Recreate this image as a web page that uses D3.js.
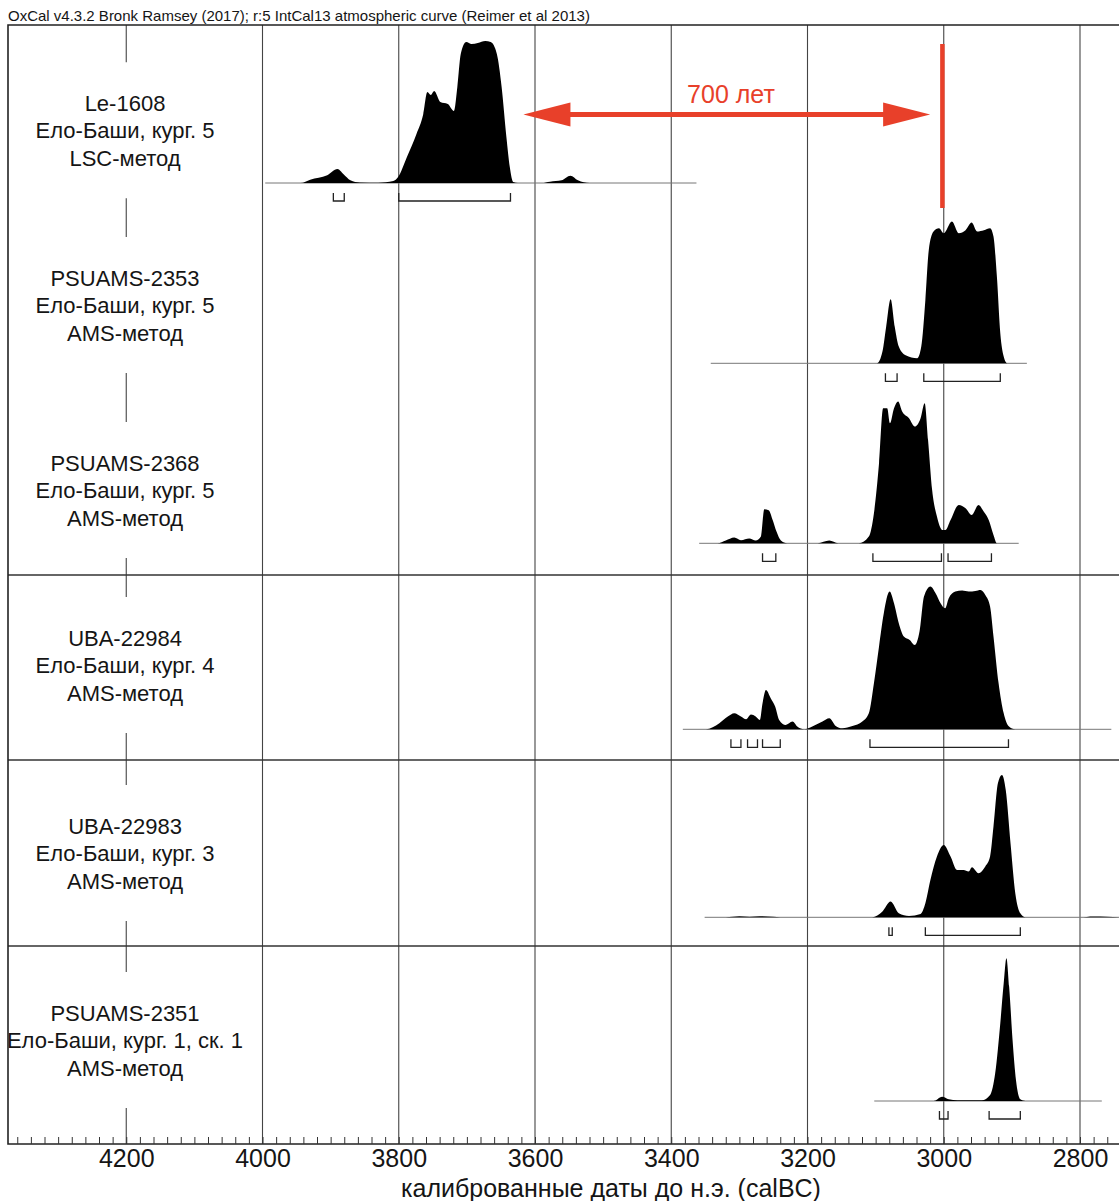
<!DOCTYPE html>
<html><head><meta charset="utf-8">
<script src="https://cdn.jsdelivr.net/npm/d3@7"></script>
<style>
body{margin:0;background:#fff}
svg{display:block}
text{font-family:"Liberation Sans",Arial,Helvetica,sans-serif;fill:#151515}
</style>
</head><body>
<svg id="c" width="1119" height="1201"></svg>
<script>
// ---------- DATA ----------
const chartTitle = "OxCal v4.3.2 Bronk Ramsey (2017); r:5 IntCal13 atmospheric curve (Reimer et al 2013)";
const axisTitle = "калиброванные даты до н.э. (calBC)";
const tickYears = [4200, 4000, 3800, 3600, 3400, 3200, 3000, 2800];
const minorTickYears = d3.range(4360, 2739, -20);

const sampleLabels = [
  ["Le-1608", "Ело-Баши, кург. 5", "LSC-метод"],
  ["PSUAMS-2353", "Ело-Баши, кург. 5", "AMS-метод"],
  ["PSUAMS-2368", "Ело-Баши, кург. 5", "AMS-метод"],
  ["UBA-22984", "Ело-Баши, кург. 4", "AMS-метод"],
  ["UBA-22983", "Ело-Баши, кург. 3", "AMS-метод"],
  ["PSUAMS-2351", "Ело-Баши, кург. 1, ск. 1", "AMS-метод"]
];

// calibrated probability distributions: [year calBC, relative probability]
const le1608 = [[3996,0],[3944,0],[3930,3.3],[3905,7.7],[3890,14],[3881,8.7],[3871,2.7],[3857,0.5],[3830,0.3],[3808,2],[3801,6],[3788,26],[3774,49],[3764,69],[3758,91],[3753,88],[3748,92],[3739,81],[3728,79],[3719,72],[3714,96],[3709,129],[3701,141],[3693,139],[3684,140],[3673,142],[3665,141],[3656,129],[3649,96],[3642,46],[3637,16],[3632,1],[3625,0],[3590,0],[3578,1.3],[3561,2.7],[3548,7.3],[3537,2.7],[3520,0],[3363,0]];
const psuams2353 = [[3342,0],[3098,0],[3090,11.7],[3084.5,36.7],[3078,64],[3072,36.7],[3066,16.7],[3056,8],[3039,5],[3033,16.7],[3027,63],[3022,113],[3015,131.7],[3007,135],[3000,130],[2988,141.7],[2978,130],[2968,133],[2959,140.7],[2951,131.7],[2941,133],[2932,135],[2927,126.7],[2922,86.7],[2917,30],[2912,6.7],[2907,0],[2878,0]];
const psuams2368 = [[3359,0],[3332,0],[3320,2.7],[3307.5,5.7],[3297.7,3],[3285.5,4.7],[3276,2.7],[3268.4,6.7],[3263.5,34],[3257,33],[3251,23],[3245.5,11.7],[3239,2.7],[3230,0],[3185,0],[3168,2.7],[3155,0],[3124.5,0],[3110,6.7],[3102.5,30],[3095,80],[3089,135],[3083,135],[3079,120],[3073,135],[3067,141.7],[3061,131.7],[3051,125],[3042.5,116.7],[3034,125],[3028,140],[3023,103],[3017,53],[3010,26.7],[3002,13.3],[2997.6,13.3],[2990,23.3],[2978,38.3],[2968,35],[2959,28.3],[2949,38.3],[2941.4,31.7],[2934,23.3],[2927,8.3],[2922,0],[2890,0]];
const uba22984 = [[3383,0],[3349,0],[3329.4,6],[3317,12.7],[3307.5,16],[3297.7,12.7],[3290,10],[3283,14.7],[3276,12.7],[3270,9.3],[3266,26],[3261,39.3],[3254,31],[3247.5,22.7],[3241.6,9.3],[3232,4.3],[3222,7.7],[3215,2.7],[3205,0],[3193,2.7],[3178,7.7],[3168,11],[3158.6,3.3],[3149,1],[3134,3.3],[3119.5,7.7],[3110,16],[3102.5,46],[3095,82.7],[3088,116],[3079.5,137.7],[3073,126],[3066,106],[3058.6,92.7],[3050,89.3],[3042.5,84.3],[3035.6,97.7],[3029,132.7],[3019.5,142.7],[3012,136],[3004.7,126],[2998,121],[2992.7,131],[2983,137.7],[2973,138.7],[2963.4,137.7],[2953.6,138.3],[2946,139.3],[2939,134.3],[2932,122.7],[2927,92.7],[2919.5,46],[2912,16],[2905,3.3],[2895,0],[2754,0]];
const uba22983 = [[3351,0],[3320,0],[3300,1],[3285,0.5],[3270,1],[3250,0.5],[3240,0],[3105,0],[3090,5.7],[3078,15.7],[3066,4],[3051,1.3],[3034,3.3],[3027,14],[3019.6,37.3],[3010,60.7],[3000,72.3],[2990,60.7],[2980.5,47.3],[2971,47.3],[2963.4,45.7],[2958.6,50],[2949,44],[2939,50.7],[2932,60.7],[2927,90.7],[2920.5,134],[2914.6,142.3],[2909,127.3],[2902,74],[2895,24],[2887.6,4],[2880,0],[2800,0],[2780,0.8],[2760,0.5],[2735,0]];
const psuams2351 = [[3102,0],[3015,0],[3002.4,4.3],[2992.7,1.7],[2980,0.7],[2944,0.7],[2932,6],[2924.5,27.7],[2917,77.7],[2912,117.7],[2908,142.7],[2904,114.3],[2899,61],[2894,21],[2887.6,1.7],[2880,0],[2768,0]];

// 95.4% ranges [from, to] calBC
const le1608Ranges = [[3896,3880],[3800,3636]];
const psuams2353Ranges = [[3085.6,3068.5],[3029.3,2917]];
const psuams2368Ranges = [[3266,3246.5],[3104,3003.4],[2993.7,2930]];
const uba22984Ranges = [[3312.4,3297.7],[3288,3273.4],[3266,3240],[3108.3,2905]];
const uba22983Ranges = [[3080.5,3075.6],[3027,2887.6]];
const psuams2351Ranges = [[3006.3,2993.7],[2933.4,2887.6]];

const distributions = [le1608, psuams2353, psuams2368, uba22984, uba22983, psuams2351];
const ranges = [le1608Ranges, psuams2353Ranges, psuams2368Ranges, uba22984Ranges, uba22983Ranges, psuams2351Ranges];

// annotation
const gapLabel = "700 лет";
const gapFrom = 3617, gapTo = 3020, markerYear = 3002;

// ---------- LAYOUT ----------
const W = 1119, H = 1201;
const frameTop = 25, frameBottom = 1144, frameLeft = 8;
const rowBase = [183, 363.3, 543.3, 729.3, 917.3, 1101];
const labelMid = [138.3, 313, 498, 673, 861, 1048];
const separators = [575, 760, 946];
const red = "#e8402a";

const svg = d3.select("#c");
const x = d3.scaleLinear().domain([4000, 2800]).range([262.5, 1080]);
const yDens = d3.scaleLinear().domain([0, 143]).range([0, 143]);

svg.append("rect").attr("width", W).attr("height", H).attr("fill", "#fff");

// title
svg.append("text").attr("x", 8).attr("y", 21).attr("font-size", 15).text(chartTitle);

// gridlines (except 4200 which is interrupted by labels)
const grid = svg.append("g").attr("stroke", "#444").attr("stroke-width", 1.1);
tickYears.filter(d => d !== 4200).forEach(t => {
  grid.append("line").attr("x1", x(t)).attr("x2", x(t)).attr("y1", frameTop).attr("y2", frameBottom);
});
// 4200 line in segments
const gaps = labelMid.map(m => [m - 76, m + 60]);
let segStart = frameTop;
gaps.forEach(g => {
  grid.append("line").attr("x1", x(4200)).attr("x2", x(4200)).attr("y1", segStart).attr("y2", g[0]);
  segStart = g[1];
});
grid.append("line").attr("x1", x(4200)).attr("x2", x(4200)).attr("y1", segStart).attr("y2", frameBottom);

// separators
separators.forEach(s => {
  svg.append("line").attr("x1", frameLeft).attr("x2", W + 5).attr("y1", s).attr("y2", s)
    .attr("stroke", "#333").attr("stroke-width", 1.6);
});

// distributions
distributions.forEach((dist, i) => {
  const base = rowBase[i];
  const ext = d3.extent(dist, d => d[0]);
  svg.append("line").attr("x1", x(ext[1])).attr("x2", x(ext[0]))
    .attr("y1", base).attr("y2", base).attr("stroke", "#777").attr("stroke-width", 1);
  const area = d3.area()
    .x(d => x(d[0])).y0(base).y1(d => base - yDens(d[1]))
    .curve(d3.curveMonotoneX);
  svg.append("path").datum(dist).attr("d", area).attr("fill", "#000");
  // range brackets
  const g = svg.append("g").attr("stroke", "#222").attr("stroke-width", 1.3).attr("fill", "none");
  ranges[i].forEach(r => {
    const x0 = x(r[0]), x1 = x(r[1]);
    const t = base + 10, b = base + 18;
    g.append("path").attr("d", `M${x0},${t}V${b}H${x1}V${t}`);
  });
});

// labels
sampleLabels.forEach((lines, i) => {
  const t = svg.append("text").attr("text-anchor", "middle").attr("font-size", 22);
  lines.forEach((l, j) => {
    t.append("tspan").attr("x", 125).attr("y", labelMid[i] + (j - 1) * 27.5).text(l);
  });
});

// frame
svg.append("path").attr("d", `M${W + 5},${frameTop}H${frameLeft}V${frameBottom}H${W + 5}`)
  .attr("fill", "none").attr("stroke", "#222").attr("stroke-width", 1.6);

// axes
const minorAxis = d3.axisBottom(x).tickValues(minorTickYears).tickSizeInner(-7).tickSizeOuter(0).tickFormat("");
const gMinor = svg.append("g").attr("transform", `translate(0,${frameBottom})`).call(minorAxis);
gMinor.select(".domain").remove();
gMinor.selectAll("line").attr("stroke", "#333");

const majorAxis = d3.axisBottom(x).tickValues(tickYears).tickSize(0).tickPadding(5).tickFormat(d3.format("d"));
const gMajor = svg.append("g").attr("transform", `translate(0,${frameBottom})`).call(majorAxis);
gMajor.select(".domain").remove();
gMajor.selectAll("text").attr("font-size", 25).attr("font-family", "Liberation Sans, Arial, sans-serif").attr("fill", "#151515");

svg.append("text").attr("x", 611).attr("y", 1197).attr("text-anchor", "middle").attr("font-size", 25).text(axisTitle);

// red annotation
const ay = 114.5, head = 47, hh = 12;
const xa = x(gapFrom), xb = x(gapTo);
svg.append("line").attr("x1", xa + head - 2).attr("x2", xb - head + 2).attr("y1", ay).attr("y2", ay)
  .attr("stroke", red).attr("stroke-width", 5);
svg.append("path").attr("d", `M${xa},${ay}L${xa + head},${ay - hh}L${xa + head},${ay + hh}Z`).attr("fill", red);
svg.append("path").attr("d", `M${xb},${ay}L${xb - head},${ay - hh}L${xb - head},${ay + hh}Z`).attr("fill", red);
svg.append("line").attr("x1", x(markerYear)).attr("x2", x(markerYear)).attr("y1", 44).attr("y2", 208)
  .attr("stroke", red).attr("stroke-width", 4.5);
svg.append("text").attr("x", 731).attr("y", 103).attr("text-anchor", "middle").attr("font-size", 25)
  .style("fill", red).text(gapLabel);
</script>
</body></html>
